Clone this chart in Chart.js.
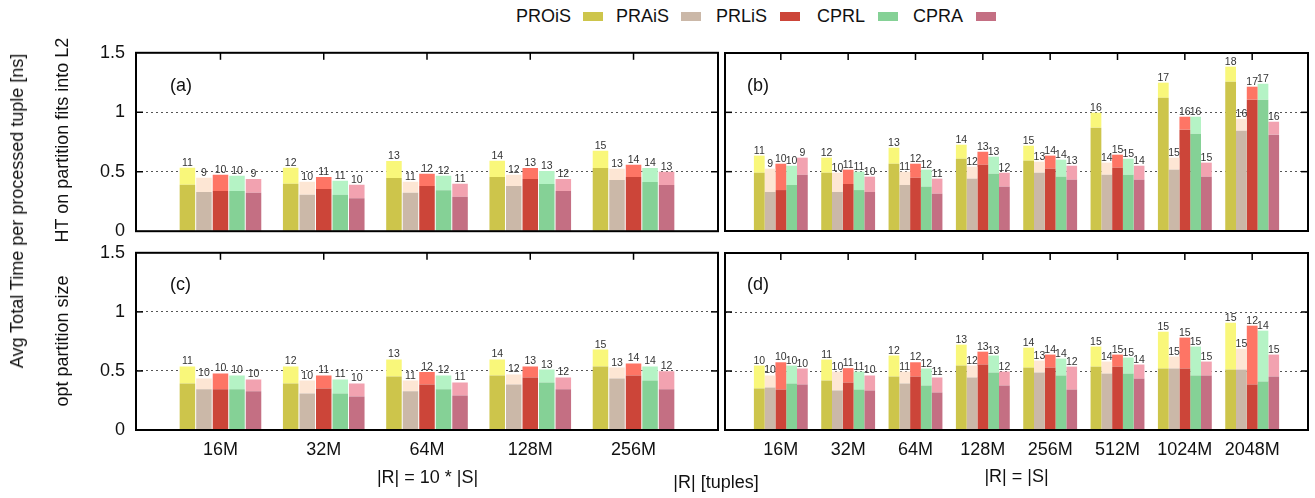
<!DOCTYPE html>
<html><head><meta charset="utf-8">
<script src="https://cdn.jsdelivr.net/npm/chart.js@4.4.0/dist/chart.umd.min.js"></script>
<style>
html,body{margin:0;padding:0;background:#fff;}
#wrap{position:relative;width:1315px;height:498px;overflow:hidden;font-family:"Liberation Sans",Arial,Helvetica,sans-serif;color:#111;}
canvas{position:absolute;}
.t{position:absolute;font-size:18px;white-space:nowrap;line-height:22px;}
.rot{transform:translate(-50%,-50%) rotate(-90deg);}
.ctr{transform:translate(-50%,-50%);}
.lft{transform:translate(0,-50%);}
.sw{position:absolute;width:20px;height:9px;}
</style></head><body><div id="wrap">
<canvas id="ca" width="724" height="206" style="left:0px;top:39px"></canvas>
<canvas id="cb" width="599" height="206" style="left:715px;top:39px"></canvas>
<canvas id="cc" width="724" height="241" style="left:0px;top:239px"></canvas>
<canvas id="cd" width="599" height="241" style="left:715px;top:239px"></canvas>
<div id="legend"></div>
<div class="t rot" style="left:17px;top:211px">Avg Total Time per processed tuple [ns]</div>
<div class="t rot" style="left:62px;top:140px">HT on partition fits into L2</div>
<div class="t rot" style="left:62px;top:340.5px">opt partition size</div>
<div class="t ctr" style="left:427.5px;top:477px">|R| = 10 * |S|</div>
<div class="t ctr" style="left:716px;top:481.5px">|R| [tuples]</div>
<div class="t ctr" style="left:1016.5px;top:476px">|R| = |S|</div>
<div class="t lft" style="left:170px;top:84.5px">(a)</div>
<div class="t lft" style="left:747px;top:84.5px">(b)</div>
<div class="t lft" style="left:170px;top:283.5px">(c)</div>
<div class="t lft" style="left:747px;top:283.5px">(d)</div>
</div>
<script>
const FONT = '"Liberation Sans", Arial, Helvetica, sans-serif';
const seriesNames = ['PROiS','PRAiS','PRLiS','CPRL','CPRA'];
const catsSmall = ['16M','32M','64M','128M','256M'];
const catsLarge = ['16M','32M','64M','128M','256M','512M','1024M','2048M'];
const yTickValues = [0, 0.5, 1, 1.5];
const yTickLabels = ['0', '0.5', '1', '1.5'];
const darkColors  = ['#cdc54b', '#cbb8a8', '#cc4539', '#85d196', '#c46f83'];
const lightColors = ['#f9f77a', '#fde6d4', '#fe7565', '#b5f3c5', '#f2a2b0'];

// Panel (a): |R| = 10*|S|, HT fits into L2  (rows: PROiS, PRAiS, PRLiS, CPRL, CPRA)
const aTotal = [
  [0.533, 0.533, 0.590, 0.593, 0.677],
  [0.449, 0.416, 0.416, 0.474, 0.525],
  [0.474, 0.455, 0.483, 0.531, 0.559],
  [0.466, 0.424, 0.466, 0.506, 0.531],
  [0.438, 0.390, 0.399, 0.438, 0.500]
];
const aBase = [
  [0.390, 0.399, 0.447, 0.455, 0.531],
  [0.329, 0.306, 0.323, 0.379, 0.430],
  [0.337, 0.354, 0.379, 0.438, 0.455],
  [0.337, 0.306, 0.345, 0.396, 0.413],
  [0.323, 0.278, 0.289, 0.337, 0.388]
];
const aLabels = [
  [11, 12, 13, 14, 15],
  [9, 10, 11, 12, 13],
  [10, 11, 12, 13, 14],
  [10, 11, 12, 13, 14],
  [9, 10, 11, 12, 13]
];

// Panel (b): |R| = |S|, HT fits into L2
const bTotal = [
  [0.635, 0.618, 0.702, 0.727, 0.719, 0.997, 1.250, 1.385],
  [0.525, 0.491, 0.500, 0.542, 0.584, 0.576, 0.618, 0.946],
  [0.567, 0.517, 0.567, 0.668, 0.635, 0.643, 0.963, 1.216],
  [0.550, 0.500, 0.517, 0.626, 0.601, 0.609, 0.963, 1.241],
  [0.618, 0.458, 0.441, 0.491, 0.550, 0.550, 0.576, 0.921]
];
const bBase = [
  [0.491, 0.491, 0.567, 0.609, 0.593, 0.871, 1.123, 1.258],
  [0.329, 0.329, 0.388, 0.441, 0.491, 0.474, 0.517, 0.845],
  [0.345, 0.396, 0.449, 0.559, 0.525, 0.534, 0.854, 1.107],
  [0.388, 0.345, 0.374, 0.483, 0.458, 0.474, 0.820, 1.107],
  [0.474, 0.329, 0.315, 0.374, 0.433, 0.433, 0.458, 0.812]
];
const bLabels = [
  [11, 12, 13, 14, 15, 16, 17, 18],
  [9, 10, 11, 12, 13, 14, 15, 16],
  [10, 11, 12, 13, 14, 15, 16, 17],
  [10, 11, 12, 13, 14, 15, 16, 17],
  [9, 10, 11, 12, 13, 14, 15, 16]
];

// Panel (c): |R| = 10*|S|, opt partition size
const cTotal = [
  [0.538, 0.538, 0.597, 0.597, 0.681],
  [0.436, 0.419, 0.419, 0.470, 0.529],
  [0.479, 0.462, 0.490, 0.538, 0.563],
  [0.462, 0.428, 0.462, 0.512, 0.538],
  [0.428, 0.394, 0.403, 0.445, 0.498]
];
const cBase = [
  [0.394, 0.394, 0.453, 0.462, 0.538],
  [0.344, 0.310, 0.327, 0.386, 0.436],
  [0.344, 0.352, 0.386, 0.445, 0.462],
  [0.344, 0.310, 0.344, 0.403, 0.419],
  [0.327, 0.284, 0.293, 0.344, 0.344]
];
const cLabels = [
  [11, 12, 13, 14, 15],
  [10, 10, 11, 12, 13],
  [10, 11, 12, 13, 14],
  [10, 11, 12, 13, 14],
  [10, 10, 11, 12, 12]
];

// Panel (d): |R| = |S|, opt partition size
const dTotal = [
  [0.546, 0.597, 0.631, 0.723, 0.698, 0.707, 0.833, 0.909],
  [0.462, 0.495, 0.495, 0.546, 0.588, 0.580, 0.622, 0.689],
  [0.574, 0.524, 0.574, 0.664, 0.639, 0.639, 0.783, 0.884],
  [0.546, 0.495, 0.521, 0.631, 0.605, 0.614, 0.707, 0.842],
  [0.521, 0.462, 0.445, 0.495, 0.537, 0.555, 0.580, 0.639]
];
const dBase = [
  [0.352, 0.419, 0.453, 0.546, 0.529, 0.537, 0.521, 0.512],
  [0.360, 0.335, 0.394, 0.445, 0.487, 0.478, 0.521, 0.512],
  [0.343, 0.402, 0.453, 0.555, 0.529, 0.537, 0.521, 0.386],
  [0.394, 0.343, 0.377, 0.487, 0.462, 0.478, 0.462, 0.411],
  [0.386, 0.335, 0.318, 0.377, 0.343, 0.436, 0.462, 0.453]
];
const dLabels = [
  [10, 11, 12, 13, 14, 15, 15, 15],
  [10, 10, 11, 12, 13, 14, 15, 15],
  [10, 11, 12, 13, 14, 15, 15, 12],
  [10, 11, 12, 13, 14, 15, 15, 14],
  [10, 10, 11, 12, 12, 14, 15, 15]
];

// Legend (HTML, text followed by swatch as in the original)
const legendTextX = [516, 616, 716, 817, 913];
const legendSwatchX = [583, 681, 780, 878, 976];
const leg = document.getElementById('legend');
seriesNames.forEach((n, i) => {
  const t = document.createElement('div');
  t.className = 't'; t.style.left = legendTextX[i] + 'px'; t.style.top = '4.5px'; t.textContent = n;
  leg.appendChild(t);
  const s = document.createElement('div');
  s.className = 'sw'; s.style.left = legendSwatchX[i] + 'px'; s.style.top = '12px'; s.style.background = darkColors[i];
  leg.appendChild(s);
});

const framePlugin = {
  id: 'frame',
  afterDatasetsDraw(chart) {
    const {ctx, chartArea: a, scales: {x, y}} = chart;
    ctx.save();
    ctx.strokeStyle = '#000';
    ctx.lineWidth = 1.5;
    x.ticks.forEach(t => {
      const px = x.getPixelForValue(t.value);
      ctx.beginPath(); ctx.moveTo(px, a.top); ctx.lineTo(px, a.top + 7); ctx.stroke();
    });
    [0.5, 1].forEach(v => {
      const py = y.getPixelForValue(v);
      ctx.beginPath(); ctx.moveTo(a.left, py); ctx.lineTo(a.left + 7, py); ctx.stroke();
      ctx.beginPath(); ctx.moveTo(a.right - 7, py); ctx.lineTo(a.right, py); ctx.stroke();
    });
    ctx.lineWidth = 2;
    ctx.strokeRect(a.left, a.top, a.right - a.left, a.bottom - a.top);
    ctx.font = '10.5px ' + FONT;
    ctx.fillStyle = '#333';
    ctx.textAlign = 'center';
    ctx.textBaseline = 'alphabetic';
    chart.data.datasets.forEach((ds, di) => {
      if (!ds.topLabels) return;
      const meta = chart.getDatasetMeta(di);
      meta.data.forEach((el, i) => ctx.fillText(String(ds.topLabels[i]), el.x, el.y - 2));
    });
    ctx.restore();
  }
};

function makePanel(id, cats, totals, bases, labels, o) {
  const datasets = [];
  seriesNames.forEach((name, s) => {
    datasets.push({
      label: name, stack: 's' + s,
      data: cats.map((c, i) => ({x: i, y: bases[s][i]})),
      backgroundColor: darkColors[s], borderWidth: 0,
      barPercentage: o.barPct, categoryPercentage: 0.8
    });
    datasets.push({
      label: name + ' (top)', stack: 's' + s,
      data: cats.map((c, i) => ({x: i, y: +(totals[s][i] - bases[s][i]).toFixed(4)})),
      backgroundColor: lightColors[s], borderWidth: 0,
      barPercentage: o.barPct, categoryPercentage: 0.8,
      topLabels: labels[s]
    });
  });
  const canvas = document.getElementById(id);
  const chart = new Chart(canvas, {
    type: 'bar',
    data: {datasets},
    options: {
      responsive: false, maintainAspectRatio: false, animation: false, events: [],
      layout: {padding: {top: 4, right: 4, bottom: 4, left: 0}},
      plugins: {legend: {display: false}, tooltip: {enabled: false}},
      scales: {
        x: {
          type: 'linear', offset: false,
          min: -o.edge, max: cats.length - 1 + o.edge,
          afterBuildTicks: sc => { sc.ticks = cats.map((c, i) => ({value: i})); },
          afterFit: sc => { sc.height = o.xHeight; },
          grid: {display: false, drawTicks: false, offset: false},
          border: {display: false},
          ticks: {display: o.showX, padding: 9, autoSkip: false, maxRotation: 0,
            font: {size: 18, family: FONT}, color: '#111',
            callback: (v, i) => cats[i]}
        },
        y: {
          stacked: true, min: 0, max: 1.5,
          afterBuildTicks: sc => { sc.ticks = yTickValues.map(v => ({value: v})); },
          afterFit: sc => { sc.width = o.yWidth; },
          grid: {drawTicks: false, lineWidth: 1,
            color: c => (c.tick && (c.tick.value === 0.5 || c.tick.value === 1)) ? '#555' : 'rgba(0,0,0,0)'},
          border: {display: false, dash: [2, 3]},
          ticks: {display: o.showY, padding: 11, font: {size: 18, family: FONT}, color: '#111',
            callback: (v, i) => yTickLabels[i]}
        }
      }
    },
    plugins: [framePlugin]
  });
  // fit the canvas so the plot area lands on the target frame
  const T = o.frame;
  for (let k = 0; k < 3; k++) {
    const a = chart.chartArea;
    const w = Math.round(chart.width + (T.r - T.l) - (a.right - a.left));
    const h = Math.round(chart.height + (T.b - T.t) - (a.bottom - a.top));
    if (w === chart.width && h === chart.height) break;
    chart.resize(w, h);
  }
  const a = chart.chartArea;
  canvas.style.left = (T.l - a.left) + 'px';
  canvas.style.top = (T.t - a.top) + 'px';
  return chart;
}

makePanel('ca', catsSmall, aTotal, aBase, aLabels, {edge: 0.818, barPct: 0.94, yWidth: 136, showY: true, showX: false, xHeight: 0, frame: {l: 136, t: 53, r: 718, b: 231}});
makePanel('cb', catsLarge, bTotal, bBase, bLabels, {edge: 0.829, barPct: 1.0, yWidth: 10, showY: false, showX: false, xHeight: 0, frame: {l: 725, t: 53, r: 1308, b: 231}});
makePanel('cc', catsSmall, cTotal, cBase, cLabels, {edge: 0.818, barPct: 0.94, yWidth: 136, showY: true, showX: true, xHeight: 46, frame: {l: 136, t: 253, r: 718, b: 430}});
makePanel('cd', catsLarge, dTotal, dBase, dLabels, {edge: 0.829, barPct: 1.0, yWidth: 10, showY: false, showX: true, xHeight: 46, frame: {l: 725, t: 253, r: 1308, b: 430}});
</script>
</body></html>
